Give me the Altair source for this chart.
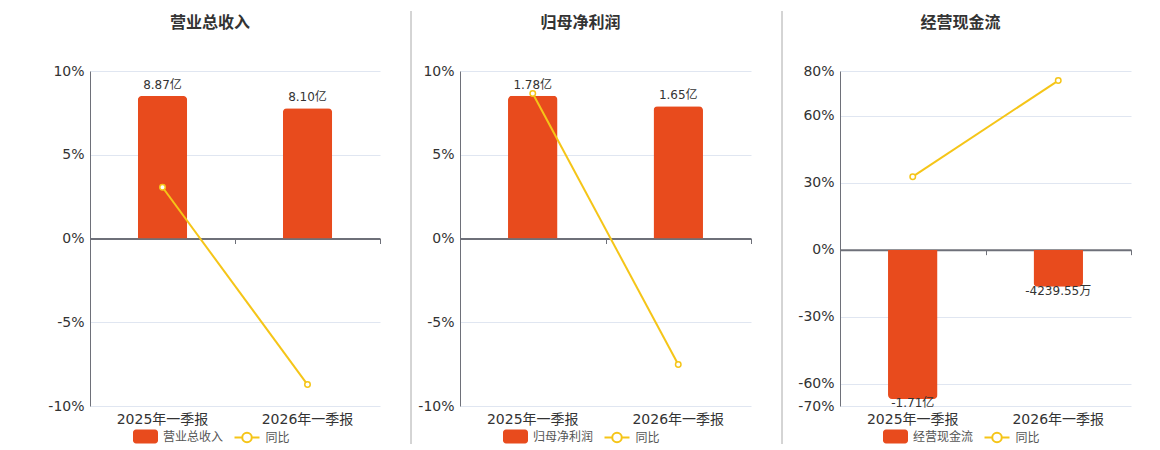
import altair as alt
import pandas as pd

FONT = "DejaVu Sans, Noto Sans CJK SC, sans-serif"
RED = "#E84B1D"
YELLOW = "#F5C518"
AXIS_GRAY = "#6E7079"
GRID = "#E0E6F1"
TEXT = "#333333"
LEGEND_TEXT = "#555555"

categories = ["2025年一季报", "2026年一季报"]
yoy_name = "同比"

titles = ["营业总收入", "归母净利润", "经营现金流"]

revenue = [8.87, 8.10]                  # 亿
revenue_labels = ["8.87亿", "8.10亿"]
revenue_yoy = [3.06, -8.72]             # %

profit = [1.78, 1.65]                   # 亿
profit_labels = ["1.78亿", "1.65亿"]
profit_yoy = [8.66, -7.52]              # %

cashflow = [-1.71, -0.423955]           # 亿
cashflow_labels = ["-1.71亿", "-4239.55万"]
cashflow_yoy = [32.7, 75.7]             # %

yoy_domains = [[-10, 10], [-10, 10], [-70, 80]]
yoy_ticks = [[10, 5, 0, -5, -10], [10, 5, 0, -5, -10], [80, 60, 30, 0, -30, -60, -70]]
bar_domains = [[-10.42, 10.42], [-2.09, 2.09], [-1.79, 2.046]]

RECT_PATH = ("M-0.76,-0.56 H0.76 A0.24,0.24 0 0 1 1,-0.32 V0.32 A0.24,0.24 0 0 1 0.76,0.56 "
             "H-0.76 A0.24,0.24 0 0 1 -1,0.32 V-0.32 A0.24,0.24 0 0 1 -0.76,-0.56 Z")
LINE_PATH = ("M-1,0 H-0.38 A0.38,0.38 0 1 1 0.38,0 A0.38,0.38 0 1 1 -0.38,0 Z "
             "M0.38,0 H1")

H = 335


def panel(title, values, labels, yoy, ydom, yticks, bdom, width, sep_x, sep_opacity):
    df = pd.DataFrame({
        "cat": categories,
        "value": values,
        "label": labels,
        "yoy": yoy,
        "series": [title] * len(categories),
        "yoy_series": [yoy_name] * len(categories),
    })
    xscale = alt.Scale(paddingInner=0, paddingOuter=0)
    zero_offset = -H * (0 - ydom[0]) / (ydom[1] - ydom[0])
    negative = values[0] < 0
    if negative:
        bar_mark = alt.MarkDef(type="bar", width=alt.RelativeBandSize(0.34),
                               cornerRadiusBottomLeft=4, cornerRadiusBottomRight=4)
    else:
        bar_mark = alt.MarkDef(type="bar", width=alt.RelativeBandSize(0.34),
                               cornerRadiusTopLeft=4, cornerRadiusTopRight=4)

    bars = alt.Chart(df, mark=bar_mark).encode(
        x=alt.X("cat:N", sort=categories, scale=xscale,
                axis=alt.Axis(title=None, labels=False, grid=False, orient="bottom",
                              domain=True, domainColor=AXIS_GRAY, domainWidth=2,
                              ticks=True, tickBand="extent", tickColor=AXIS_GRAY,
                              tickSize=5, tickWidth=1, offset=zero_offset)),
        y=alt.Y("value:Q", scale=alt.Scale(domain=bdom, nice=False, zero=False), axis=None),
        fill=alt.Fill("series:N", scale=alt.Scale(range=[RED]),
                      legend=alt.Legend(title=None, orient="none", legendX=43, legendY=353,
                                        symbolType=RECT_PATH, symbolSize=625,
                                        symbolStrokeWidth=0, labelFontSize=12,
                                        labelColor=LEGEND_TEXT, labelOffset=5, padding=0)),
    )
    texts = alt.Chart(df).mark_text(
        fontSize=12, color=TEXT,
        baseline="middle" if negative else "bottom",
        dy=4 if negative else -4,
    ).encode(
        x=alt.X("cat:N", sort=categories, scale=xscale, axis=None),
        y=alt.Y("value:Q", scale=alt.Scale(domain=bdom, nice=False, zero=False), axis=None),
        text="label:N",
    )

    line = alt.Chart(df).mark_line(strokeWidth=2).encode(
        x=alt.X("cat:N", sort=categories, scale=xscale,
                axis=alt.Axis(title=None, orient="bottom", labelAngle=0, labelFontSize=14,
                              labelColor=TEXT, ticks=False, domain=False, grid=False,
                              labelPadding=6)),
        y=alt.Y("yoy:Q", scale=alt.Scale(domain=ydom, nice=False, zero=False),
                axis=alt.Axis(title=None, values=yticks, labelExpr="datum.value + '%'",
                              ticks=False, labelPadding=6, domain=True,
                              domainColor=AXIS_GRAY, domainWidth=1, grid=True,
                              gridColor=GRID, gridWidth=1, labelFontSize=14,
                              labelColor=TEXT)),
        stroke=alt.Stroke("yoy_series:N", scale=alt.Scale(range=[YELLOW]),
                          legend=alt.Legend(title=None, orient="none", legendX=143.5,
                                            legendY=353, symbolType=LINE_PATH,
                                            symbolSize=625, symbolStrokeWidth=2,
                                            symbolFillColor="white", labelFontSize=12,
                                            labelColor=LEGEND_TEXT, labelOffset=5,
                                            padding=0)),
    )
    points = alt.Chart(df).mark_point(
        shape="circle", filled=True, fill="white", stroke=YELLOW, strokeWidth=1.5,
        size=30, opacity=1,
    ).encode(
        x=alt.X("cat:N", sort=categories, scale=xscale, axis=None),
        y=alt.Y("yoy:Q", scale=alt.Scale(domain=ydom, nice=False, zero=False), axis=None),
    )

    sep = alt.Chart(pd.DataFrame({"k": [0]})).mark_rule(
        color="#AAAAAA", strokeWidth=1, opacity=sep_opacity
    ).encode(x=alt.value(sep_x), y=alt.value(-60), y2=alt.value(373))

    return alt.layer(bars, texts, line, points, sep).resolve_scale(
        y="independent"
    ).resolve_axis(x="independent", y="independent").properties(
        width=width, height=H,
        title=alt.TitleParams(text=title, fontSize=16, fontWeight="bold", color=TEXT,
                              anchor="middle", offset=-20, dx=-25),
    )


p1 = panel(titles[0], revenue, revenue_labels, revenue_yoy, yoy_domains[0], yoy_ticks[0],
           bar_domains[0], 290, 0, 0)
p2 = panel(titles[1], profit, profit_labels, profit_yoy, yoy_domains[1], yoy_ticks[1],
           bar_domains[1], 291, -49, 1)
p3 = panel(titles[2], cashflow, cashflow_labels, cashflow_yoy, yoy_domains[2], yoy_ticks[2],
           bar_domains[2], 291, -58, 1)

chart = alt.hconcat(p1, p2, p3, spacing=29).resolve_scale(
    x="independent", y="independent", fill="independent", stroke="independent"
).properties(
    padding={"left": 39, "top": 2, "right": 5, "bottom": 0}
).configure(font=FONT).configure_view(stroke=None)

chart.save("out.html", embed_options={"renderer": "svg", "actions": False})
